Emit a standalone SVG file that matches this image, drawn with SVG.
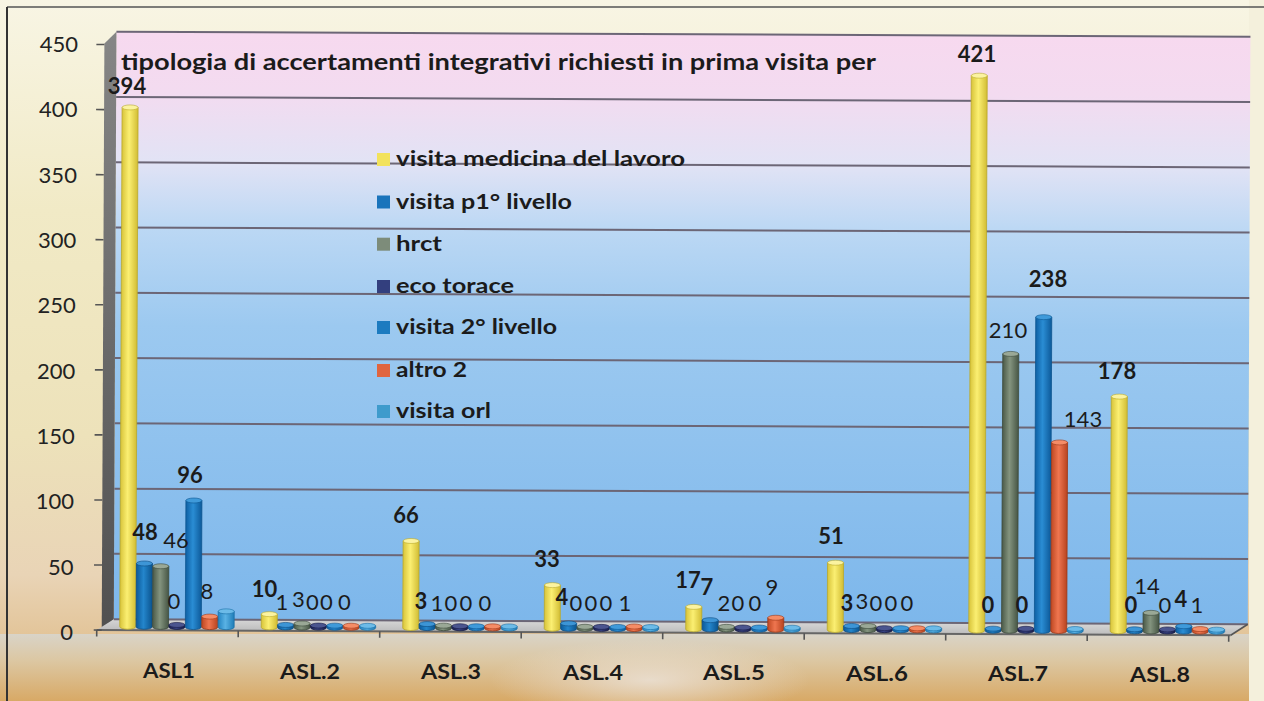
<svg xmlns="http://www.w3.org/2000/svg" width="1264" height="701" viewBox="0 0 1264 701">
<style>
.t{font-family:Lato,'Liberation Sans','DejaVu Sans',sans-serif;fill:#1b1b1b}
.b{font-weight:700}
.dl{font-size:22px;text-anchor:middle}
.ya{font-size:22px;text-anchor:end;fill:#222}
.xa{font-size:20px;font-weight:700;text-anchor:middle}
.lg{font-size:20px;font-weight:700}
.grid{stroke:#6c6676;stroke-width:2;fill:none}
.tick{stroke:#555;stroke-width:1.6;fill:none}
.Y{fill:url(#gY);stroke:#b9a92c;stroke-width:.8}
.Yt{fill:#fbf3a0;stroke:#b9a92c;stroke-width:.6}
.P{fill:url(#gP);stroke:#0b4c82;stroke-width:.8}
.Pt{fill:#3d95d6;stroke:#0b4c82;stroke-width:.6}
.H{fill:url(#gH);stroke:#3c4a3b;stroke-width:.8}
.Ht{fill:#9aa896;stroke:#3c4a3b;stroke-width:.6}
.E{fill:url(#gE);stroke:#151a44;stroke-width:.8}
.Et{fill:#4b558f;stroke:#151a44;stroke-width:.6}
.V{fill:url(#gV);stroke:#0c5590;stroke-width:.8}
.Vt{fill:#3f9ada;stroke:#0c5590;stroke-width:.6}
.A{fill:url(#gA);stroke:#9c3818;stroke-width:.8}
.At{fill:#f58c66;stroke:#9c3818;stroke-width:.6}
.O{fill:url(#gO);stroke:#1a6fa6;stroke-width:.8}
.Ot{fill:#6cbbe8;stroke:#1a6fa6;stroke-width:.6}
</style>
<defs>
<linearGradient id="bg" x1="0" y1="0" x2="0" y2="1">
<stop offset="0" stop-color="#f8f5e4"/>
<stop offset="0.3" stop-color="#f1eac6"/>
<stop offset="0.62" stop-color="#ede2ba"/>
<stop offset="0.82" stop-color="#e9d4b6"/>
<stop offset="1" stop-color="#dcb47a"/>
</linearGradient>
<linearGradient id="bot" x1="0" y1="0" x2="0" y2="1">
<stop offset="0" stop-color="#d9d4c8"/>
<stop offset="0.4" stop-color="#dcc7a2"/>
<stop offset="1" stop-color="#d8a966"/>
</linearGradient>
<radialGradient id="haze" cx="0.5" cy="0.5" r="0.5">
<stop offset="0" stop-color="#ece4dc" stop-opacity="0.8"/>
<stop offset="1" stop-color="#ece4dc" stop-opacity="0"/>
</radialGradient>
<linearGradient id="wall" x1="0" y1="0" x2="0" y2="1">
<stop offset="0" stop-color="#f7d9ef"/>
<stop offset="0.1" stop-color="#f3dbf0"/>
<stop offset="0.22" stop-color="#e2e3f5"/>
<stop offset="0.33" stop-color="#bcd8f4"/>
<stop offset="0.5" stop-color="#9cc9f0"/>
<stop offset="1" stop-color="#7db7eb"/>
</linearGradient>
<linearGradient id="side" x1="0" y1="0" x2="0" y2="1">
<stop offset="0" stop-color="#868686"/>
<stop offset="1" stop-color="#505050"/>
</linearGradient>
<linearGradient id="floor" x1="0" y1="0" x2="0" y2="1">
<stop offset="0" stop-color="#d6d6d6"/>
<stop offset="1" stop-color="#bdbdbd"/>
</linearGradient>
<linearGradient id="gY" x1="0" y1="0" x2="1" y2="0"><stop offset="0" stop-color="#d8c43a"/><stop offset="0.45" stop-color="#fbef72"/><stop offset="1" stop-color="#d2bd34"/></linearGradient>
<linearGradient id="gP" x1="0" y1="0" x2="1" y2="0"><stop offset="0" stop-color="#0c5a9a"/><stop offset="0.45" stop-color="#2486cc"/><stop offset="1" stop-color="#0b548f"/></linearGradient>
<linearGradient id="gH" x1="0" y1="0" x2="1" y2="0"><stop offset="0" stop-color="#4a5948"/><stop offset="0.45" stop-color="#84947f"/><stop offset="1" stop-color="#475645"/></linearGradient>
<linearGradient id="gE" x1="0" y1="0" x2="1" y2="0"><stop offset="0" stop-color="#1a1f50"/><stop offset="0.45" stop-color="#3a4586"/><stop offset="1" stop-color="#181d4a"/></linearGradient>
<linearGradient id="gV" x1="0" y1="0" x2="1" y2="0"><stop offset="0" stop-color="#0e60a4"/><stop offset="0.45" stop-color="#2a8dd4"/><stop offset="1" stop-color="#0d5a9a"/></linearGradient>
<linearGradient id="gA" x1="0" y1="0" x2="1" y2="0"><stop offset="0" stop-color="#bf4822"/><stop offset="0.45" stop-color="#ef7650"/><stop offset="1" stop-color="#b8431f"/></linearGradient>
<linearGradient id="gO" x1="0" y1="0" x2="1" y2="0"><stop offset="0" stop-color="#2384c2"/><stop offset="0.45" stop-color="#5ab2e4"/><stop offset="1" stop-color="#1f7db8"/></linearGradient>
</defs>

<g id="background">
<rect x="0" y="0" width="1264" height="701" fill="url(#bg)"/>
<rect x="0" y="634" width="1264" height="67" fill="url(#bot)"/>
<ellipse cx="650" cy="680" rx="160" ry="40" fill="url(#haze)"/>
<rect x="1249" y="0" width="15" height="701" fill="#f4f0dc"/>
<line x1="7" y1="7" x2="1264" y2="7" stroke="#555" stroke-width="1.5"/>
<line x1="7" y1="7" x2="7" y2="701" stroke="#333" stroke-width="2"/>
</g>

<g id="chart" transform="rotate(0.26 632 350)">
<g id="walls">
<rect x="115" y="34" width="1134" height="587.5" fill="url(#wall)"/>
<polygon points="103,46 115,34 115,621.5 103,632.5" fill="url(#side)"/>
<polygon points="115,621.5 1249,621.5 1232,632.5 98,632.5" fill="url(#floor)"/>
</g>
<g id="gridlines" class="grid">
<line x1="115" y1="34" x2="1249" y2="34"/>
<line x1="115" y1="99.3" x2="1249" y2="99.3"/>
<line x1="115" y1="164.6" x2="1249" y2="164.6"/>
<line x1="115" y1="229.8" x2="1249" y2="229.8"/>
<line x1="115" y1="295.1" x2="1249" y2="295.1"/>
<line x1="115" y1="360.4" x2="1249" y2="360.4"/>
<line x1="115" y1="425.7" x2="1249" y2="425.7"/>
<line x1="115" y1="491" x2="1249" y2="491"/>
<line x1="115" y1="556.2" x2="1249" y2="556.2"/>
<line x1="115" y1="621.5" x2="1249" y2="621.5"/>
</g>
<g id="axes" class="tick">
<line x1="98" y1="632.5" x2="1232" y2="632.5" stroke="#666" stroke-width="2"/>
<line x1="1249" y1="621.5" x2="1232" y2="632.5"/>
<path d="M95 46.9H103M95 112H103M95 177.1H103M95 242.1H103M95 307.2H103M95 372.3H103M95 437.3H103M95 502.4H103M95 567.4H103M95 632.5H103"/>
<path d="M98 632.5V639M239.5 632.5V639M381 632.5V639M522.5 632.5V639M664 632.5V639M805.5 632.5V639M947 632.5V639M1088.5 632.5V639M1230 632.5V639"/>
</g>

<g id="ASL1">
<path class="Y" d="M121 109.7v519.3a8 2.5 0 0 0 16 0v-519.3z"/><ellipse class="Yt" cx="129" cy="109.7" rx="8" ry="2.5"/>
<path class="P" d="M137.4 565.7v63.3a8 2.5 0 0 0 16 0v-63.3z"/><ellipse class="Pt" cx="145.4" cy="565.7" rx="8" ry="2.5"/>
<path class="H" d="M153.8 568.4v60.6a8 2.5 0 0 0 16 0v-60.6z"/><ellipse class="Ht" cx="161.8" cy="568.4" rx="8" ry="2.5"/>
<path class="E" d="M170.2 627v2a8 2.5 0 0 0 16 0v-2z"/><ellipse class="Et" cx="178.2" cy="627" rx="8" ry="2.5"/>
<path class="V" d="M186.6 502.5v126.5a8 2.5 0 0 0 16 0v-126.5z"/><ellipse class="Vt" cx="194.6" cy="502.5" rx="8" ry="2.5"/>
<path class="A" d="M203 618.5v10.5a8 2.5 0 0 0 16 0v-10.5z"/><ellipse class="At" cx="211" cy="618.5" rx="8" ry="2.5"/>
<path class="O" d="M219.4 613.2v15.8a8 2.5 0 0 0 16 0v-15.8z"/><ellipse class="Ot" cx="227.4" cy="613.2" rx="8" ry="2.5"/>
</g>
<g id="ASL2">
<path class="Y" d="M262.5 615.8v13.2a8 2.5 0 0 0 16 0v-13.2z"/><ellipse class="Yt" cx="270.5" cy="615.8" rx="8" ry="2.5"/>
<path class="P" d="M278.9 626.5v2.5a8 2.5 0 0 0 16 0v-2.5z"/><ellipse class="Pt" cx="286.9" cy="626.5" rx="8" ry="2.5"/>
<path class="H" d="M295.3 625v4a8 2.5 0 0 0 16 0v-4z"/><ellipse class="Ht" cx="303.3" cy="625" rx="8" ry="2.5"/>
<path class="E" d="M311.7 627v2a8 2.5 0 0 0 16 0v-2z"/><ellipse class="Et" cx="319.7" cy="627" rx="8" ry="2.5"/>
<path class="V" d="M328.1 627v2a8 2.5 0 0 0 16 0v-2z"/><ellipse class="Vt" cx="336.1" cy="627" rx="8" ry="2.5"/>
<path class="A" d="M344.5 627v2a8 2.5 0 0 0 16 0v-2z"/><ellipse class="At" cx="352.5" cy="627" rx="8" ry="2.5"/>
<path class="O" d="M360.9 627v2a8 2.5 0 0 0 16 0v-2z"/><ellipse class="Ot" cx="368.9" cy="627" rx="8" ry="2.5"/>
</g>
<g id="ASL3">
<path class="Y" d="M404 542v87a8 2.5 0 0 0 16 0v-87z"/><ellipse class="Yt" cx="412" cy="542" rx="8" ry="2.5"/>
<path class="P" d="M420.4 625v4a8 2.5 0 0 0 16 0v-4z"/><ellipse class="Pt" cx="428.4" cy="625" rx="8" ry="2.5"/>
<path class="H" d="M436.8 626.5v2.5a8 2.5 0 0 0 16 0v-2.5z"/><ellipse class="Ht" cx="444.8" cy="626.5" rx="8" ry="2.5"/>
<path class="E" d="M453.2 627v2a8 2.5 0 0 0 16 0v-2z"/><ellipse class="Et" cx="461.2" cy="627" rx="8" ry="2.5"/>
<path class="V" d="M469.6 627v2a8 2.5 0 0 0 16 0v-2z"/><ellipse class="Vt" cx="477.6" cy="627" rx="8" ry="2.5"/>
<path class="A" d="M486 627v2a8 2.5 0 0 0 16 0v-2z"/><ellipse class="At" cx="494" cy="627" rx="8" ry="2.5"/>
<path class="O" d="M502.4 627v2a8 2.5 0 0 0 16 0v-2z"/><ellipse class="Ot" cx="510.4" cy="627" rx="8" ry="2.5"/>
</g>
<g id="ASL4">
<path class="Y" d="M545.5 585.5v43.5a8 2.5 0 0 0 16 0v-43.5z"/><ellipse class="Yt" cx="553.5" cy="585.5" rx="8" ry="2.5"/>
<path class="P" d="M561.9 623.7v5.3a8 2.5 0 0 0 16 0v-5.3z"/><ellipse class="Pt" cx="569.9" cy="623.7" rx="8" ry="2.5"/>
<path class="H" d="M578.3 627v2a8 2.5 0 0 0 16 0v-2z"/><ellipse class="Ht" cx="586.3" cy="627" rx="8" ry="2.5"/>
<path class="E" d="M594.7 627v2a8 2.5 0 0 0 16 0v-2z"/><ellipse class="Et" cx="602.7" cy="627" rx="8" ry="2.5"/>
<path class="V" d="M611.1 627v2a8 2.5 0 0 0 16 0v-2z"/><ellipse class="Vt" cx="619.1" cy="627" rx="8" ry="2.5"/>
<path class="A" d="M627.5 626.5v2.5a8 2.5 0 0 0 16 0v-2.5z"/><ellipse class="At" cx="635.5" cy="626.5" rx="8" ry="2.5"/>
<path class="O" d="M643.9 627v2a8 2.5 0 0 0 16 0v-2z"/><ellipse class="Ot" cx="651.9" cy="627" rx="8" ry="2.5"/>
</g>
<g id="ASL5">
<path class="Y" d="M687 606.6v22.4a8 2.5 0 0 0 16 0v-22.4z"/><ellipse class="Yt" cx="695" cy="606.6" rx="8" ry="2.5"/>
<path class="P" d="M703.4 619.8v9.2a8 2.5 0 0 0 16 0v-9.2z"/><ellipse class="Pt" cx="711.4" cy="619.8" rx="8" ry="2.5"/>
<path class="H" d="M719.8 626.4v2.6a8 2.5 0 0 0 16 0v-2.6z"/><ellipse class="Ht" cx="727.8" cy="626.4" rx="8" ry="2.5"/>
<path class="E" d="M736.2 627v2a8 2.5 0 0 0 16 0v-2z"/><ellipse class="Et" cx="744.2" cy="627" rx="8" ry="2.5"/>
<path class="V" d="M752.6 627v2a8 2.5 0 0 0 16 0v-2z"/><ellipse class="Vt" cx="760.6" cy="627" rx="8" ry="2.5"/>
<path class="A" d="M769 617.1v11.9a8 2.5 0 0 0 16 0v-11.9z"/><ellipse class="At" cx="777" cy="617.1" rx="8" ry="2.5"/>
<path class="O" d="M785.4 627v2a8 2.5 0 0 0 16 0v-2z"/><ellipse class="Ot" cx="793.4" cy="627" rx="8" ry="2.5"/>
</g>
<g id="ASL6">
<path class="Y" d="M828.5 561.8v67.2a8 2.5 0 0 0 16 0v-67.2z"/><ellipse class="Yt" cx="836.5" cy="561.8" rx="8" ry="2.5"/>
<path class="P" d="M844.9 625v4a8 2.5 0 0 0 16 0v-4z"/><ellipse class="Pt" cx="852.9" cy="625" rx="8" ry="2.5"/>
<path class="H" d="M861.3 625v4a8 2.5 0 0 0 16 0v-4z"/><ellipse class="Ht" cx="869.3" cy="625" rx="8" ry="2.5"/>
<path class="E" d="M877.7 627v2a8 2.5 0 0 0 16 0v-2z"/><ellipse class="Et" cx="885.7" cy="627" rx="8" ry="2.5"/>
<path class="V" d="M894.1 627v2a8 2.5 0 0 0 16 0v-2z"/><ellipse class="Vt" cx="902.1" cy="627" rx="8" ry="2.5"/>
<path class="A" d="M910.5 627v2a8 2.5 0 0 0 16 0v-2z"/><ellipse class="At" cx="918.5" cy="627" rx="8" ry="2.5"/>
<path class="O" d="M926.9 627v2a8 2.5 0 0 0 16 0v-2z"/><ellipse class="Ot" cx="934.9" cy="627" rx="8" ry="2.5"/>
</g>
<g id="ASL7">
<path class="Y" d="M970 74.1v554.9a8 2.5 0 0 0 16 0v-554.9z"/><ellipse class="Yt" cx="978" cy="74.1" rx="8" ry="2.5"/>
<path class="P" d="M986.4 627v2a8 2.5 0 0 0 16 0v-2z"/><ellipse class="Pt" cx="994.4" cy="627" rx="8" ry="2.5"/>
<path class="H" d="M1002.8 352.2v276.8a8 2.5 0 0 0 16 0v-276.8z"/><ellipse class="Ht" cx="1010.8" cy="352.2" rx="8" ry="2.5"/>
<path class="E" d="M1019.2 627v2a8 2.5 0 0 0 16 0v-2z"/><ellipse class="Et" cx="1027.2" cy="627" rx="8" ry="2.5"/>
<path class="V" d="M1035.6 315.3v313.7a8 2.5 0 0 0 16 0v-313.7z"/><ellipse class="Vt" cx="1043.6" cy="315.3" rx="8" ry="2.5"/>
<path class="A" d="M1052 440.5v188.5a8 2.5 0 0 0 16 0v-188.5z"/><ellipse class="At" cx="1060" cy="440.5" rx="8" ry="2.5"/>
<path class="O" d="M1068.4 627v2a8 2.5 0 0 0 16 0v-2z"/><ellipse class="Ot" cx="1076.4" cy="627" rx="8" ry="2.5"/>
</g>
<g id="ASL8">
<path class="Y" d="M1111.5 394.4v234.6a8 2.5 0 0 0 16 0v-234.6z"/><ellipse class="Yt" cx="1119.5" cy="394.4" rx="8" ry="2.5"/>
<path class="P" d="M1127.9 627v2a8 2.5 0 0 0 16 0v-2z"/><ellipse class="Pt" cx="1135.9" cy="627" rx="8" ry="2.5"/>
<path class="H" d="M1144.3 610.5v18.5a8 2.5 0 0 0 16 0v-18.5z"/><ellipse class="Ht" cx="1152.3" cy="610.5" rx="8" ry="2.5"/>
<path class="E" d="M1160.7 627v2a8 2.5 0 0 0 16 0v-2z"/><ellipse class="Et" cx="1168.7" cy="627" rx="8" ry="2.5"/>
<path class="V" d="M1177.1 623.7v5.3a8 2.5 0 0 0 16 0v-5.3z"/><ellipse class="Vt" cx="1185.1" cy="623.7" rx="8" ry="2.5"/>
<path class="A" d="M1193.5 626.5v2.5a8 2.5 0 0 0 16 0v-2.5z"/><ellipse class="At" cx="1201.5" cy="626.5" rx="8" ry="2.5"/>
<path class="O" d="M1209.9 627v2a8 2.5 0 0 0 16 0v-2z"/><ellipse class="Ot" cx="1217.9" cy="627" rx="8" ry="2.5"/>
</g>
</g>

<g id="y-axis-labels" class="t ya">
<text x="78" y="52">450</text>
<text x="77.4" y="117.3">400</text>
<text x="76.9" y="182.7">350</text>
<text x="76.3" y="248">300</text>
<text x="75.8" y="313.3">250</text>
<text x="75.2" y="378.7">200</text>
<text x="74.7" y="444">150</text>
<text x="74.1" y="509.3">100</text>
<text x="73.6" y="574.7">50</text>
<text x="73" y="640">0</text>
</g>

<g id="x-axis-labels" class="t xa">
<text x="169" y="678" textLength="52" lengthAdjust="spacingAndGlyphs">ASL1</text>
<text x="310" y="678.6" textLength="60" lengthAdjust="spacingAndGlyphs">ASL.2</text>
<text x="451" y="679.1" textLength="60" lengthAdjust="spacingAndGlyphs">ASL.3</text>
<text x="593" y="679.7" textLength="60" lengthAdjust="spacingAndGlyphs">ASL.4</text>
<text x="734" y="680.3" textLength="62" lengthAdjust="spacingAndGlyphs">ASL.5</text>
<text x="877" y="680.8" textLength="62" lengthAdjust="spacingAndGlyphs">ASL.6</text>
<text x="1018" y="681.4" textLength="60" lengthAdjust="spacingAndGlyphs">ASL.7</text>
<text x="1160" y="682" textLength="60" lengthAdjust="spacingAndGlyphs">ASL.8</text>
</g>

<g id="title">
<text class="t b" x="121" y="70" font-size="22" textLength="755" lengthAdjust="spacingAndGlyphs">tipologia di accertamenti integrativi richiesti in prima visita per</text>
</g>

<g id="legend">
<rect x="377" y="153" width="13" height="13" fill="#f2e25c"/>
<text class="t lg" x="396" y="166" textLength="289" lengthAdjust="spacingAndGlyphs">visita medicina del lavoro</text>
<rect x="377" y="195.5" width="13" height="13" fill="#1a74bb"/>
<text class="t lg" x="396" y="208.5" textLength="176" lengthAdjust="spacingAndGlyphs">visita p1° livello</text>
<rect x="377" y="237.7" width="13" height="13" fill="#7d8c7a"/>
<text class="t lg" x="396" y="250.7" textLength="46" lengthAdjust="spacingAndGlyphs">hrct</text>
<rect x="377" y="280" width="13" height="13" fill="#333f7e"/>
<text class="t lg" x="396" y="293" textLength="118" lengthAdjust="spacingAndGlyphs">eco torace</text>
<rect x="377" y="321" width="13" height="13" fill="#1c7bc0"/>
<text class="t lg" x="396" y="334" textLength="161" lengthAdjust="spacingAndGlyphs">visita 2° livello</text>
<rect x="377" y="364" width="13" height="13" fill="#e0653f"/>
<text class="t lg" x="396" y="377" textLength="71" lengthAdjust="spacingAndGlyphs">altro 2</text>
<rect x="377" y="405" width="13" height="13" fill="#3e9bcc"/>
<text class="t lg" x="396" y="418" textLength="95" lengthAdjust="spacingAndGlyphs">visita orl</text>
</g>

<g id="data-labels" class="t dl">
<text class="b" x="127" y="94">394</text>
<text class="b" x="145" y="540">48</text>
<text x="176" y="548">46</text>
<text x="174" y="609">0</text>
<text class="b" x="190" y="483">96</text>
<text x="207" y="599">8</text>

<text class="b" x="264.5" y="597">10</text>
<text x="282" y="610">1</text>
<text x="298.5" y="607">3</text>
<text x="312.5" y="610">0</text>
<text x="326.5" y="610">0</text>
<text x="344.5" y="610">0</text>

<text class="b" x="406" y="523">66</text>
<text class="b" x="421" y="609">3</text>
<text x="437" y="611">1</text>
<text x="451" y="611">0</text>
<text x="466" y="611">0</text>
<text x="485" y="611">0</text>

<text class="b" x="547" y="567">33</text>
<text class="b" x="562" y="605">4</text>
<text x="576" y="611">0</text>
<text x="591" y="611">0</text>
<text x="606" y="611">0</text>
<text x="625" y="611">1</text>

<text class="b" x="688" y="588">17</text>
<text class="b" x="707" y="595">7</text>
<text x="724" y="611">2</text>
<text x="738" y="611">0</text>
<text x="755" y="611">0</text>
<text x="772" y="595">9</text>

<text class="b" x="831" y="544">51</text>
<text class="b" x="847" y="611">3</text>
<text x="862" y="609">3</text>
<text x="876" y="611">0</text>
<text x="891" y="611">0</text>
<text x="907" y="611">0</text>

<text class="b" x="977" y="62">421</text>
<text class="b" x="988" y="613">0</text>
<text x="1008" y="338">210</text>
<text class="b" x="1022" y="613">0</text>
<text class="b" x="1048" y="287">238</text>
<text x="1083" y="427">143</text>

<text class="b" x="1117" y="379">178</text>
<text class="b" x="1131" y="613">0</text>
<text x="1147" y="594">14</text>
<text x="1165" y="613">0</text>
<text class="b" x="1181" y="607">4</text>
<text x="1197" y="613">1</text>
</g>
</svg>
